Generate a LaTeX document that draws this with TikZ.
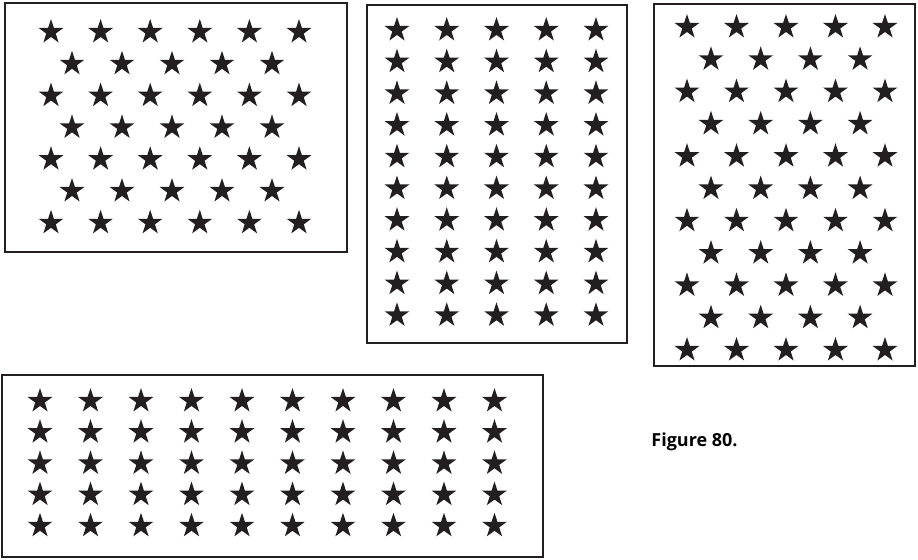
\documentclass[tikz,border=0pt]{standalone}
\usepackage{fontspec}
\setsansfont{Open Sans}
\usetikzlibrary{shapes.geometric}
\definecolor{inkblack}{RGB}{35,31,32}
\tikzset{
  flagbox/.style={draw=inkblack, line width=1pt},
  flagstar/.style={star, star points=5, star point ratio=2.618, fill=inkblack, draw=none, minimum size=13pt, inner sep=0pt},
}

\begin{document}
\begin{tikzpicture}[x=0.5pt,y=-0.5pt]
\useasboundingbox (0,0) rectangle (918,559);
\draw[flagbox] (5,3) rectangle (347,252);
\foreach \r in {0,2,4,6} \foreach \c in {0,...,5}
  \node[flagstar] (fa-\r-\c) at ({51+49.6*\c},{32+31.8*\r}) {};
\foreach \r in {1,3,5} \foreach \c in {0,...,4}
  \node[flagstar] (fa-\r-\c) at ({72+50*\c},{32+31.8*\r}) {};
\draw[flagbox] (367,5) rectangle (627,343);
\foreach \r in {0,...,9} \foreach \c in {0,...,4}
  \node[flagstar] (fb-\r-\c) at ({397+49.75*\c},{30+31.7*\r}) {};
\draw[flagbox] (654,4) rectangle (915,366);
\foreach \r in {0,2,4,6,8,10} \foreach \c in {0,...,4}
  \node[flagstar] (fc-\r-\c) at ({687+49.5*\c},{27+32.3*\r}) {};
\foreach \r in {1,3,5,7,9} \foreach \c in {0,...,3}
  \node[flagstar] (fc-\r-\c) at ({711+49.7*\c},{27+32.3*\r}) {};
\draw[flagbox] (2,375) rectangle (543,557);
\foreach \r in {0,...,4} \foreach \c in {0,...,9}
  \node[flagstar] (fd-\r-\c) at ({40+50.5*\c},{401+31.2*\r}) {};
\node[anchor=west, inner sep=0pt, font=\sffamily\bfseries\fontsize{9}{11}\selectfont] (caption) at (651,442) {Figure 80.};
\end{tikzpicture}
\end{document}
